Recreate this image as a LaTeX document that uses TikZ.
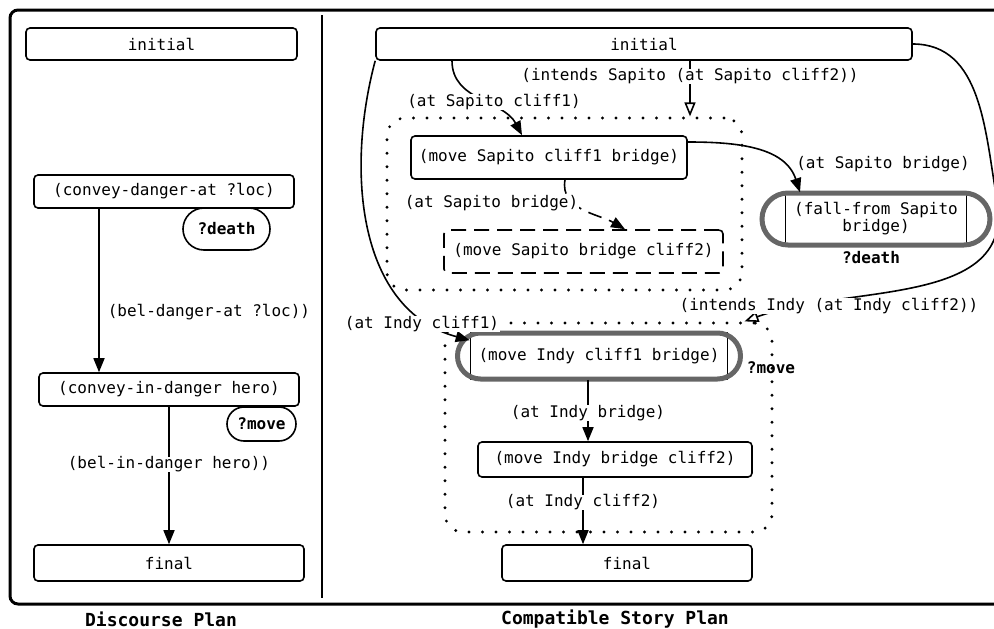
\documentclass[tikz,border=0pt]{standalone}
\usepackage{fontspec}
\setmonofont{DejaVu Sans Mono}
\usetikzlibrary{positioning, arrows.meta}

\begin{document}
\begin{tikzpicture}[
    x=1pt, y=-1pt, >={Triangle[length=14pt, width=11pt]},
    every node/.style={font=\fontsize{16}{17}\selectfont\ttfamily},
    stepbox/.style={draw, line width=1.6pt, rounded corners=4pt, inner sep=0pt, align=center},
    flag/.style={draw, line width=1.6pt, rounded corners=17pt, inner sep=0pt, font=\fontsize{16}{17}\selectfont\ttfamily\bfseries},
    group/.style={draw, line width=3.2pt, line cap=round, dash pattern=on 0pt off 13.5pt, rounded corners=18pt, inner sep=0pt},
    hilite/.style={draw=black!60, line width=5pt, inner sep=0pt},
    cond/.style={fill=white, inner xsep=1pt, inner ysep=0pt},
    link/.style={->, line width=1.6pt},
    wish/.style={-{Triangle[open, length=14pt, width=11pt]}, line width=1.6pt},
    tag/.style={font=\fontsize{16}{17}\selectfont\ttfamily\bfseries},
    paneltitle/.style={font=\fontsize{18}{20}\selectfont\ttfamily\bfseries}
]
    \useasboundingbox (0,0) rectangle (994,629);
    \clip (0,0) rectangle (994,629);

    % Frame and divider
    \draw[line width=3pt, rounded corners=8pt] (10,10) rectangle (1030,604);
    \draw[line width=2pt] (322,15) -- (322,598);

    % Discourse plan
    \node[stepbox, minimum width=271pt, minimum height=32pt] (dinit) at (161.5,44) {initial};
    \node[stepbox, minimum width=260pt, minimum height=33pt] (dconv) at (164,191.5) {(convey-danger-at ?loc)};
    \node[flag, rounded corners=21pt, minimum width=87pt, minimum height=42pt] (ddeath) at (226.5,229) {?death};
    \node[stepbox, minimum width=260pt, minimum height=33pt] (dhero) at (169,389.5) {(convey-in-danger hero)};
    \node[flag, minimum width=69pt, minimum height=34pt] (dmove) at (261.5,424) {?move};
    \node[stepbox, minimum width=270pt, minimum height=36pt] (dfinal) at (169,563) {final};

    \draw[link] ([xshift=-65pt]dconv.south) -- ([xshift=-70pt]dhero.north)
        node[pos=0.63, right=8pt, inner sep=0pt] {(bel-danger-at ?loc))};
    \draw[link] (dhero.south) -- (dfinal.north)
        node[cond, pos=0.42] {(bel-in-danger hero))};

    % Story plan: groups
    \node[group, minimum width=355pt, minimum height=172pt] (sbox) at (564.5,204) {};
    \node[group, minimum width=327pt, minimum height=209pt] (nbox) at (608.5,427.5) {};

    % Story plan: steps
    \node[stepbox, minimum width=536pt, minimum height=32pt] (sinit) at (644,44) {initial};
    \node[stepbox, minimum width=276pt, minimum height=43pt] (smove1) at (549,157.5) {(move Sapito cliff1 bridge)};
    \node[stepbox, dash pattern=on 15pt off 8pt, minimum width=279pt, minimum height=43pt] (smove2) at (583.5,251.5) {(move Sapito bridge cliff2)};
    \node[stepbox, sharp corners, minimum width=181pt, minimum height=52pt] (sfall) at (876,219) {(fall-from Sapito\\bridge)};
    \node[hilite, rounded corners=26pt, minimum width=228pt, minimum height=52pt] (sfallring) at (sfall) {};
    \node[tag] (sdeath) at (871,258) {?death};

    \node[stepbox, sharp corners, minimum width=257pt, minimum height=46pt] (nmove1) at (599,356) {(move Indy cliff1 bridge)};
    \node[hilite, rounded corners=23pt, minimum width=283pt, minimum height=46pt] (nmovering) at (nmove1) {};
    \node[tag] (nmovetag) at (771,368) {?move};
    \node[stepbox, minimum width=274pt, minimum height=35pt] (nmove2) at (615,459.5) {(move Indy bridge cliff2)};
    \node[stepbox, minimum width=250pt, minimum height=36pt] (nfinal) at (627,563) {final};

    % Story plan: links
    \coordinate (rturn) at (997,200);
    \draw[link] ([xshift=-192pt]sinit.south) to[out=-90, in=118] ([xshift=-27pt]smove1.north);
    \draw[wish] ([xshift=46pt]sinit.south) -- ([xshift=125.5pt]sbox.north)
        node[cond, pos=0.28] {(intends Sapito (at Sapito cliff2))};
    \draw[link, dash pattern=on 14pt off 8pt] ([xshift=16pt]smove1.south) to[out=-100, in=150] ([xshift=41.5pt]smove2.north);
    \draw[link] ([yshift=15.5pt]smove1.east) to[out=0, in=108] ([xshift=-76pt]sfall.north);
    \draw[wish] (sinit.east) to[out=0, in=100] (rturn) to[out=-80, in=20] ([xshift=136pt]nbox.north);
    \draw[link] (sinit.south west) to[out=-105, in=165] ([yshift=-8pt]nmove1.north west);
    \draw[link] ([xshift=-11pt]nmove1.south) -- ([xshift=-27pt]nmove2.north)
        node[cond, pos=0.54] {(at Indy bridge)};
    \draw[link] ([xshift=-32pt]nmove2.south) -- ([xshift=-44pt]nfinal.north)
        node[cond, pos=0.37] {(at Indy cliff2)};

    % Labels on curved links
    \node[cond] (lsc1) at (494,102) {(at Sapito cliff1)};
    \node[cond] (lsb1) at (491.5,203) {(at Sapito bridge)};
    \node[cond] (lsb2) at (883,164) {(at Sapito bridge)};
    \node[cond] (lic2) at (829,306) {(intends Indy (at Indy cliff2))};
    \node[cond] (lic1) at (422,324) {(at Indy cliff1)};

    % Titles
    \node[paneltitle] (dtitle) at (161,619) {Discourse Plan};
    \node[paneltitle] (stitle) at (615,619) {Compatible Story Plan};

\end{tikzpicture}
\end{document}
